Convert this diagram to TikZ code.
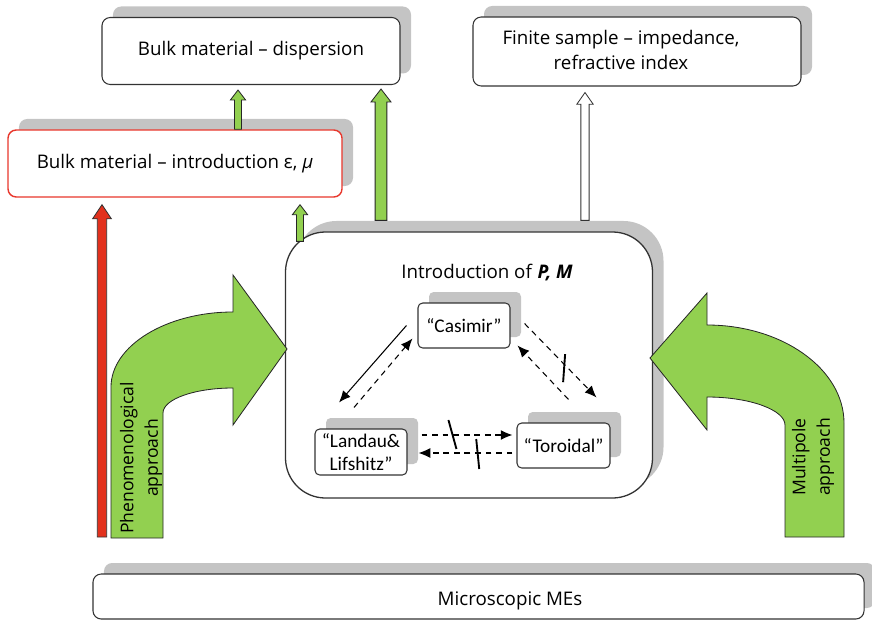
\documentclass[tikz,border=0pt]{standalone}
\usepackage{fontspec}
\setmainfont{Open Sans}
\newfontfamily\calfont{Carlito}
\usetikzlibrary{calc,shadows,arrows.meta}

\definecolor{leafgreen}{HTML}{92D050}
\definecolor{arrowred}{HTML}{E2311D}
\definecolor{boxred}{HTML}{E8372C}
\definecolor{shadowgray}{HTML}{C4C4C4}
\definecolor{boxline}{HTML}{333333}

\tikzset{
  box/.style={draw=boxline, line width=0.9pt, fill=white, rounded corners=7pt,
    drop shadow={shadow xshift=0.33cm, shadow yshift=0.33cm, fill=shadowgray, opacity=1},
    font=\fontsize{16}{22}\selectfont, align=center, inner sep=0pt},
  smallbox/.style={box, rounded corners=4pt, font=\calfont\fontsize{16.5}{19}\selectfont},
  txt/.style={font=\fontsize{16}{22}\selectfont, align=center, inner sep=0pt},
  blockfill/.style={draw=black!85, line width=0.7pt, fill=leafgreen},
  link/.style={line width=0.9pt, -{Latex[length=10pt,width=8.5pt]}},
  dlink/.style={link, dash pattern=on 5pt off 4pt},
  bar/.style={line width=1.6pt}
}

% straight block arrow: style, foot, tip, half shaft, half head, head length
\newcommand{\blockarrow}[6]{%
  \filldraw[#1] let \p1=(#2), \p2=(#3) in
    (\x1-#4,\y1) -- (\x1-#4,\y2-#6) -- (\x1-#5,\y2-#6) -- (\x1,\y2)
    -- (\x1+#5,\y2-#6) -- (\x1+#4,\y2-#6) -- (\x1+#4,\y1) -- cycle;}

\begin{document}
\begin{tikzpicture}[x=0.03cm,y=-0.03cm]
  \useasboundingbox (0,0) rectangle (872,621);

  % top row
  \node[box, minimum width=8.94cm, minimum height=2.01cm] (dsp) at (251,51)
    {Bulk material -- dispersion};
  \node[box, minimum width=9.84cm, minimum height=2.07cm] (fin) at (637,51.5) {};
  \node[txt] (fintxt) at (621,50) {Finite sample -- impedance,\\refractive index};
  \node[box, draw=boxred, line width=1.2pt, minimum width=10.02cm, minimum height=2.01cm]
    (red) at (175,163.5) {Bulk material -- introduction ε, \textit{μ}};

  % central box
  \node[box, line width=1.1pt, rounded corners=1.2cm, minimum width=11.01cm,
    minimum height=7.98cm] (pm) at (469,365) {};
  \node[txt] (pmtitle) at (487,273) {Introduction of \textbf{\textit{P, M}}};
  \node[smallbox, minimum width=2.76cm, minimum height=1.35cm] (cas) at (464,325.5)
    {“Casimir”};
  \node[smallbox, minimum width=2.76cm, minimum height=1.38cm] (lan) at (361,452)
    {“Landau\&\\Lifshitz”};
  \node[smallbox, minimum width=2.79cm, minimum height=1.35cm] (tor) at (563.5,445.5)
    {“Toroidal”};

  % bottom
  \node[box, minimum width=23.13cm, minimum height=1.35cm] (mic) at (478.5,596.5) {};
  \node[txt] (mictxt) at (510,601) {Microscopic MEs};

  % links inside
  \draw[link] ($(cas.west)+(-11,0)$) -- ($(lan.north)+(-22,-26)$);
  \draw[dlink] ($(lan.north)+(-7,-21)$) -- ($(cas.south west)+(-5,-10)$);
  \draw[dlink] ($(cas.east)+(14,-2)$) -- coordinate[pos=.55] (cut1) ($(tor.north)+(33,-25)$);
  \draw[bar] ($(cut1)+(1,-10)$) -- ($(cut1)+(-1,18)$);
  \draw[dlink] ($(tor.north)+(5,-23)$) -- ($(cas.south east)+(7,-3)$);
  \draw[dlink] ($(lan.east)+(14,-17)$) -- coordinate[pos=.34] (cut2) ($(tor.west)+(-4,-10.5)$);
  \draw[bar] ($(cut2)+(-4,-15)$) -- ($(cut2)+(4,14)$);
  \draw[dlink] ($(tor.west)+(-4,7.5)$) -- coordinate[pos=.37] (cut3) ($(lan.east)+(11,1)$);
  \draw[bar] ($(cut3)+(-1.5,-14)$) -- ($(cut3)+(1.5,16)$);

  % straight arrows
  \coordinate (redfoot) at (102,537);
  \blockarrow{blockfill}{238,0 |- red.north}{$(238,0 |- dsp.south)+(0,5)$}{3pt}{6.5pt}{8.5pt}
  \blockarrow{blockfill}{$(381,0 |- pm.north)+(0,-11)$}{$(381,0 |- dsp.south)+(0,4)$}{5pt}{8.5pt}{11pt}
  \blockarrow{blockfill}{$(300,0 |- pm.north)+(0,10)$}{$(300,0 |- red.south)+(0,7)$}{3pt}{6.5pt}{8.5pt}
  \blockarrow{draw=black!80, line width=0.7pt, fill=arrowred}{redfoot}{$(102,0 |- red.south)+(0,7)$}{4pt}{8pt}{12pt}
  \blockarrow{draw=black!80, line width=0.7pt, fill=white}{$(585,0 |- pm.north)+(0,-11)$}{$(585,0 |- fin.south)+(0,6)$}{3.5pt}{7pt}{10pt}

  % bent arrows
  \filldraw[blockfill] (111,538) -- (111,387) .. controls (111,346) and (166,312) .. (233,312)
    -- (233,275) -- (287,349) -- (233,425) -- (233,388)
    .. controls (195,388) and (163,399) .. (163,413) -- (163,538) -- cycle;
  \node[txt, rotate=90, font=\fontsize{15}{21}\selectfont] (phen) at (141,458)
    {Phenomenological\\approach};
  \filldraw[blockfill] (844,537) -- (844,423) .. controls (844,369) and (782,325) .. (707,325)
    -- (707,293) -- (650,358) -- (707,430) -- (707,397)
    .. controls (750,397) and (785,410) .. (785,425) -- (785,537) -- cycle;
  \node[txt, rotate=90, font=\fontsize{15}{21}\selectfont] (mult) at (813,457)
    {Multipole\\approach};
\end{tikzpicture}
\end{document}
